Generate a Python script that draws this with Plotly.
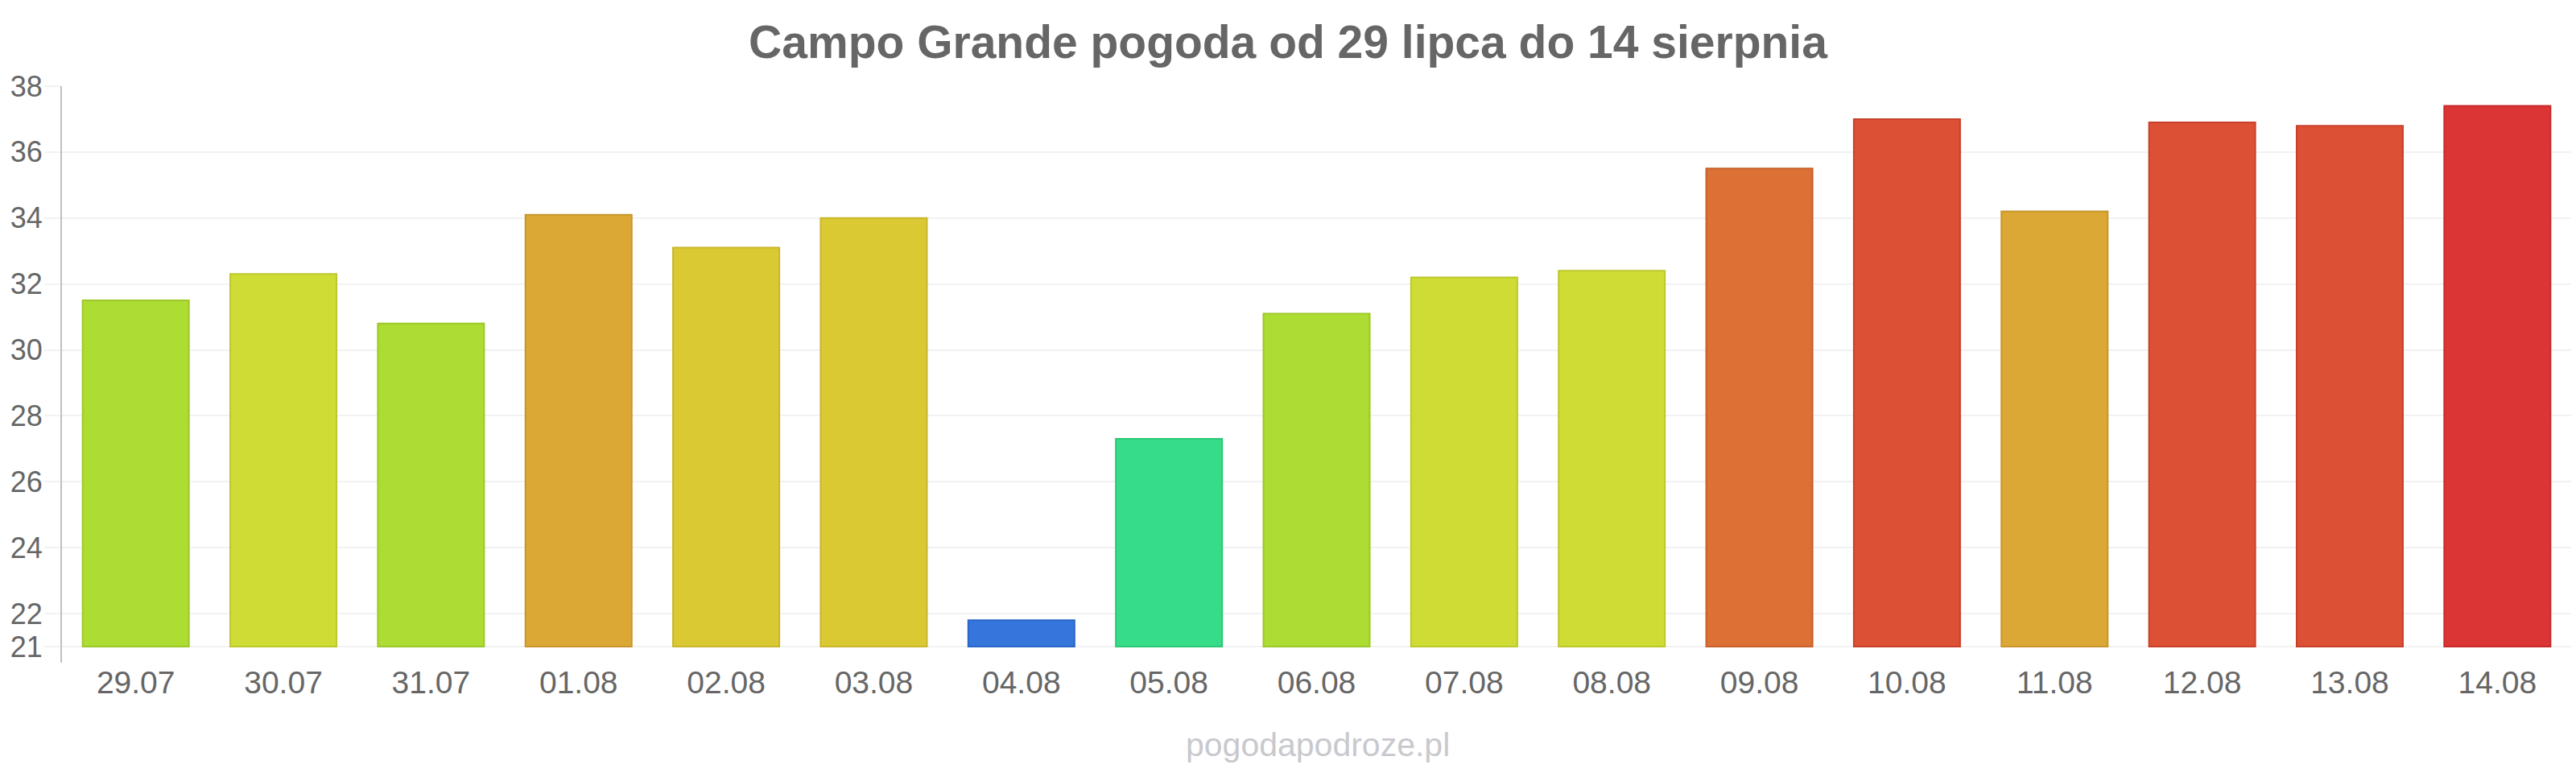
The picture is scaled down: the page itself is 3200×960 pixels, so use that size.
import plotly.graph_objects as go

# ---- data ----
dates = ["29.07", "30.07", "31.07", "01.08", "02.08", "03.08", "04.08", "05.08", "06.08",
         "07.08", "08.08", "09.08", "10.08", "11.08", "12.08", "13.08", "14.08"]
temps = [31.5, 32.3, 30.8, 34.1, 33.1, 34.0, 21.8, 27.3, 31.1,
         32.2, 32.4, 35.5, 37.0, 34.2, 36.9, 36.8, 37.4]
y_ticks = [21, 22, 24, 26, 28, 30, 32, 34, 36, 38]
axis_min = 21
title_text = "Campo Grande pogoda od 29 lipca do 14 sierpnia"
watermark = "pogodapodroze.pl"

# ---- style ----
fill_colors = ["#addc33", "#cfdc35", "#addc33", "#dca835", "#dbc934", "#dbc934", "#3476dc",
               "#36dc88", "#addc33", "#cfdc35", "#cfdc35", "#dc7035", "#dc5035", "#dca835",
               "#dc5035", "#dc5035", "#dc3535"]
border_colors = ["#9cc82a", "#bcc82c", "#9cc82a", "#c8952c", "#c8b62c", "#c8b62c", "#2a66c8",
                 "#2cc878", "#9cc82a", "#bcc82c", "#bcc82c", "#c8602c", "#c8402c", "#c8952c",
                 "#c8402c", "#c8402c", "#c82a2a"]
text_color = "#666666"
grid_color = "#f2f2f2"
font_family = "Liberation Sans, Arial, sans-serif"

fig = go.Figure()
fig.add_trace(go.Bar(
    x=dates,
    y=[t - axis_min for t in temps],
    base=axis_min,
    marker=dict(color=fill_colors, line=dict(color=border_colors, width=2)),
    customdata=temps,
    hovertemplate="%{x}: %{customdata}<extra></extra>",
))

# plot area: x from 77 to 3194 px, y from 107 (38) to 823 px; 21 sits at 803 px
px_per_unit = (803 - 107) / (38 - 21)
range_min = 21 - (823 - 803) / px_per_unit

fig.update_layout(
    width=3200, height=960,
    margin=dict(l=77, r=6, t=107, b=137),
    paper_bgcolor="white", plot_bgcolor="white",
    bargap=0.28,
    showlegend=False,
    font=dict(family=font_family, color=text_color),
    title=dict(
        text=title_text,
        x=0.5, xanchor="center", xref="container",
        y=1 - 52 / 960, yanchor="middle", yref="container",
        font=dict(size=57, color=text_color, family=font_family, weight="bold"),
    ),
    xaxis=dict(
        type="category",
        showgrid=False, showline=False, zeroline=False,
        ticks="", tickfont=dict(size=39, color=text_color),
        ticklabelstandoff=-2,
    ),
    yaxis=dict(
        range=[range_min, 38],
        tickmode="array", tickvals=y_ticks, ticktext=[str(v) for v in y_ticks],
        showgrid=True, gridcolor=grid_color, gridwidth=2,
        zeroline=False,
        showline=True, linecolor="#c0c0c0", linewidth=2,
        ticks="outside", ticklen=20, tickcolor=grid_color, tickwidth=2,
        tickfont=dict(size=36, color=text_color),
        ticklabelstandoff=-5,
    ),
    annotations=[dict(
        text=watermark, xref="paper", yref="paper",
        x=(1637 - 77) / (3194 - 77), y=-(925 - 823) / (823 - 107),
        xanchor="center", yanchor="middle", showarrow=False,
        font=dict(size=41, color="#c8c9ce", family=font_family),
    )],
)

fig.write_html("out.html", config={"displayModeBar": False},
               post_script="document.body.style.margin='0';document.body.style.overflow='hidden';")
